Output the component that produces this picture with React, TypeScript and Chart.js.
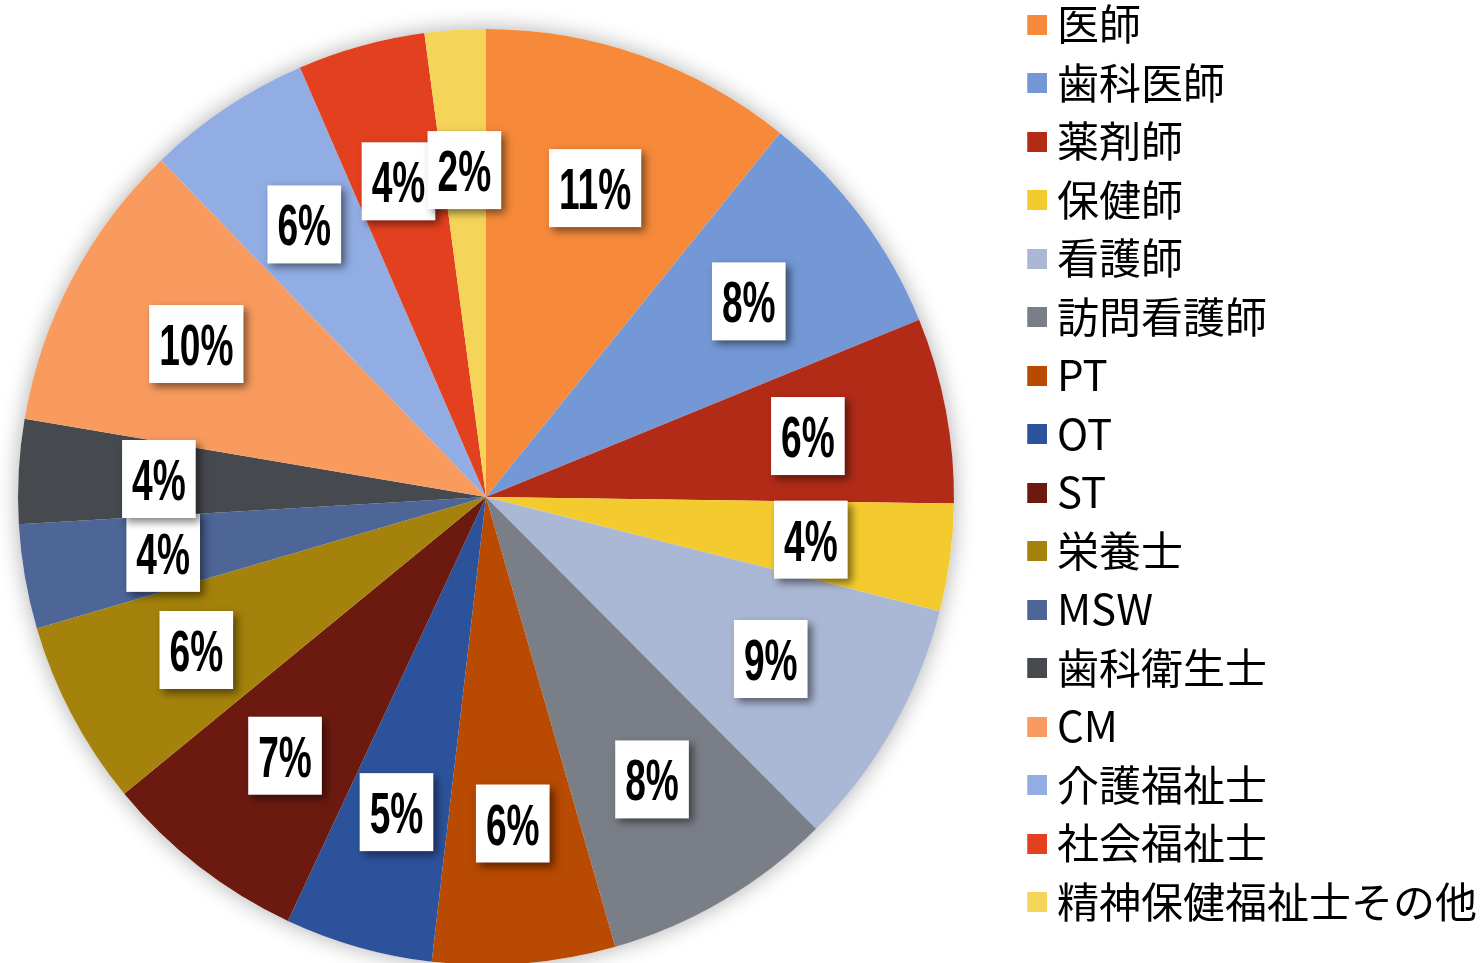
import React, { useEffect, useRef } from "react";
import { Chart, registerables } from "chart.js";

Chart.register(...registerables);

const categories = [
  "医師",
  "歯科医師",
  "薬剤師",
  "保健師",
  "看護師",
  "訪問看護師",
  "PT",
  "OT",
  "ST",
  "栄養士",
  "MSW",
  "歯科衛生士",
  "CM",
  "介護福祉士",
  "社会福祉士",
  "精神保健福祉士その他",
];

const shares = [10.8, 8.0, 6.4, 3.7, 8.6, 8.0, 6.3, 5.1, 7.1, 6.4, 3.6, 3.6, 10.1, 5.7, 4.4, 2.1];

const sliceColors = [
  "#F6893A",
  "#7498D6",
  "#B22B17",
  "#F4CB2F",
  "#ABB8D5",
  "#7A7E87",
  "#B84A02",
  "#2C529C",
  "#6C1A10",
  "#A5820B",
  "#4D6697",
  "#46494E",
  "#F99B5E",
  "#92ADE3",
  "#E3401F",
  "#F5D45A",
];

const LEGEND_FONT_SIZE = 42;
const LEGEND_FONT_FAMILY = '"Noto Sans CJK JP", "Noto Sans CJK SC", sans-serif';
const LEGEND_PAD = 16.5;
const LEGEND_BOX_W = 65.5;
const CANVAS_W = 1481;
const PIE_LEFT = 18;
const PIE_DIAM = 936;

function makeSwatch(color: string) {
  const c = document.createElement("canvas");
  c.width = 88;
  c.height = 20;
  const g = c.getContext("2d")!;
  g.fillStyle = color;
  g.fillRect(68, 0, 20, 20);
  return c;
}

const pieShadow = {
  id: "pieShadow",
  beforeDatasetsDraw(chart: any) {
    const meta = chart.getDatasetMeta(0);
    if (!meta.data.length) return;
    const p = meta.data[0].getProps(["x", "y", "outerRadius"], true);
    const ctx = chart.ctx;
    ctx.save();
    ctx.shadowColor = "rgba(0,0,0,0.32)";
    ctx.shadowBlur = 22;
    ctx.shadowOffsetX = 0;
    ctx.shadowOffsetY = 0;
    ctx.fillStyle = "#ffffff";
    ctx.beginPath();
    ctx.arc(p.x, p.y, p.outerRadius, 0, Math.PI * 2);
    ctx.fill();
    ctx.restore();
  },
};

const pctLabels = {
  id: "pctLabels",
  afterDatasetsDraw(chart: any) {
    const ctx = chart.ctx;
    const meta = chart.getDatasetMeta(0);
    const values = chart.data.datasets[0].data as number[];
    const total = values.reduce((a, b) => a + b, 0);
    const sx = 0.64;
    meta.data.forEach((arc: any, i: number) => {
      const p = arc.getProps(["x", "y", "startAngle", "endAngle", "outerRadius"], true);
      const mid = (p.startAngle + p.endAngle) / 2;
      const r = p.outerRadius * 0.7;
      const cx = p.x + Math.cos(mid) * r;
      const cy = p.y + Math.sin(mid) * r;
      const text = Math.round((values[i] / total) * 100) + "%";
      ctx.save();
      ctx.font = 'bold 58px "Liberation Sans", Arial, sans-serif';
      const tw = ctx.measureText(text).width * sx;
      const bw = tw + 20;
      const bh = 78;
      ctx.shadowColor = "rgba(0,0,0,0.5)";
      ctx.shadowBlur = 8;
      ctx.shadowOffsetX = 4;
      ctx.shadowOffsetY = 4;
      ctx.fillStyle = "#ffffff";
      ctx.fillRect(cx - bw / 2, cy - bh / 2, bw, bh);
      ctx.shadowColor = "rgba(0,0,0,0)";
      ctx.shadowBlur = 0;
      ctx.shadowOffsetX = 0;
      ctx.shadowOffsetY = 0;
      ctx.translate(cx, cy + 21);
      ctx.scale(sx, 1);
      ctx.fillStyle = "#000000";
      ctx.textAlign = "center";
      ctx.textBaseline = "alphabetic";
      ctx.fillText(text, 0, 0);
      ctx.restore();
    });
  },
};

export default function App() {
  const canvasRef = useRef<HTMLCanvasElement | null>(null);

  useEffect(() => {
    if (!canvasRef.current) return;
    const swatches = sliceColors.map(makeSwatch);

    const mctx = document.createElement("canvas").getContext("2d")!;
    mctx.font = `normal ${LEGEND_FONT_SIZE}px ${LEGEND_FONT_FAMILY}`;
    const maxText = Math.max(...categories.map((c) => mctx.measureText(c).width));
    const legendWidth = LEGEND_PAD + LEGEND_BOX_W + LEGEND_FONT_SIZE / 2 + maxText + 10;
    const padRight = CANVAS_W - (PIE_LEFT + PIE_DIAM) - legendWidth;

    const chart = new Chart(canvasRef.current, {
      type: "pie",
      data: {
        labels: categories,
        datasets: [
          {
            data: shares,
            backgroundColor: sliceColors,
            borderWidth: 0,
          },
        ],
      },
      options: {
        animation: false,
        responsive: true,
        maintainAspectRatio: false,
        layout: { padding: { left: PIE_LEFT, right: padRight, top: 0, bottom: 0 } },
        plugins: {
          tooltip: { enabled: false },
          legend: {
            position: "right",
            align: "start",
            labels: {
              usePointStyle: true,
              pointStyleWidth: LEGEND_BOX_W,
              boxHeight: 20,
              padding: LEGEND_PAD,
              color: "#000000",
              font: { family: LEGEND_FONT_FAMILY, size: LEGEND_FONT_SIZE, weight: "normal" },
              generateLabels(ch: any) {
                const base = (Chart as any).overrides.doughnut.plugins.legend.labels.generateLabels(ch);
                return base.map((it: any, i: number) => ({ ...it, pointStyle: swatches[i] }));
              },
            },
          },
        },
      } as any,
      plugins: [pieShadow, pctLabels],
    });
    return () => chart.destroy();
  }, []);

  return (
    <div
      style={{
        position: "fixed",
        left: 0,
        top: 0,
        width: CANVAS_W,
        height: 963,
        overflow: "hidden",
        background: "#ffffff",
      }}
    >
      <div style={{ position: "absolute", left: 0, top: -13, width: CANVAS_W, height: 1020 }}>
        <canvas ref={canvasRef} />
      </div>
    </div>
  );
}
